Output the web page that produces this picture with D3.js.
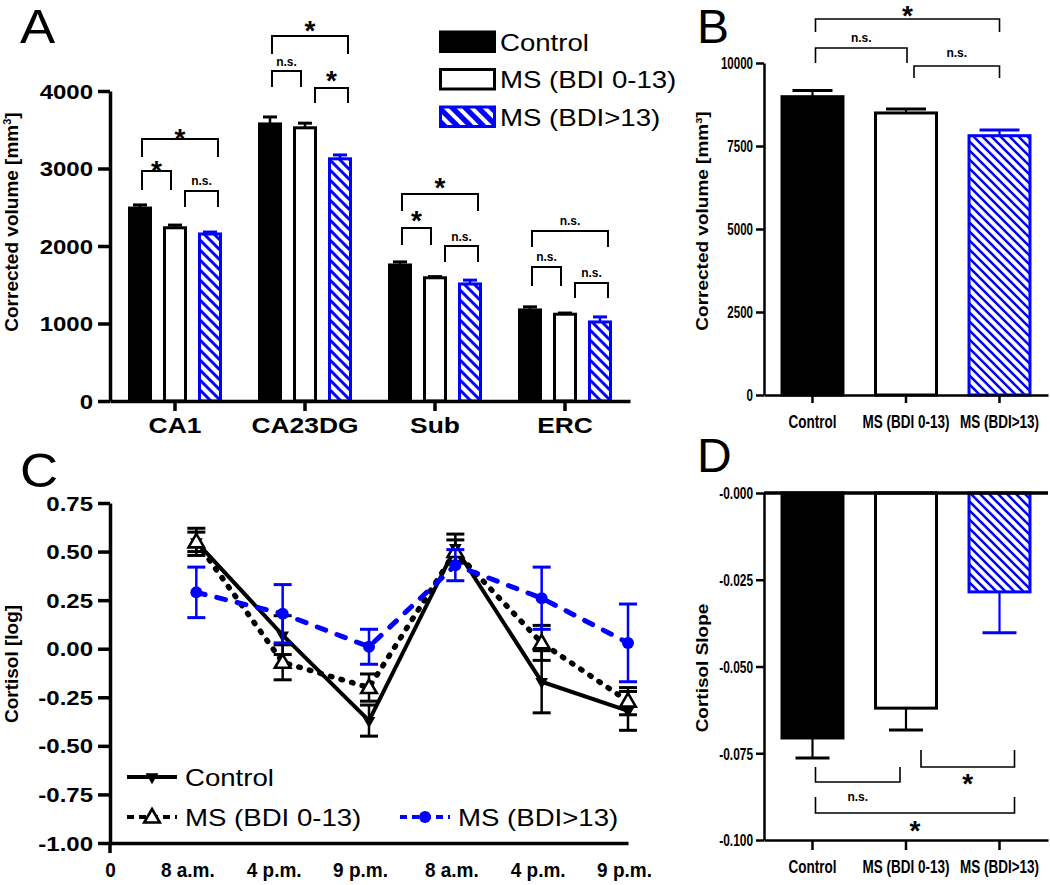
<!DOCTYPE html>
<html><head><meta charset="utf-8">
<script src="https://cdn.jsdelivr.net/npm/d3@7"></script>
<style>body{margin:0;background:#fff} svg{display:block} text{font-family:"Liberation Sans",Arial,sans-serif}</style>
</head><body><svg id="c" width="1050" height="885"></svg>
<script>
// ---------- DATA ----------
const regions = ["CA1", "CA23DG", "Sub", "ERC"];
const groups = ["Control", "MS (BDI 0-13)", "MS (BDI>13)"];
const volControl = [2490, 3575, 1755, 1175];
const volControlErr = [40, 90, 40, 40];
const volMSLow = [2235, 3525, 1590, 1120];
const volMSLowErr = [35, 60, 15, 15];
const volMSHigh = [2155, 3125, 1510, 1020];
const volMSHighErr = [25, 50, 50, 65];
const volTicks = [0, 1000, 2000, 3000, 4000];

const totalVol = [8985, 8495, 7810];
const totalVolErr = [190, 120, 170];
const totalTicks = [0, 2500, 5000, 7500, 10000];

const times = ["8 a.m.", "4 p.m.", "9 p.m.", "8 a.m.", "4 p.m.", "9 p.m."];
const cortControl = [0.55, 0.07, -0.37, 0.52, -0.17, -0.32];
const cortControlErr = [0.07, 0.10, 0.08, 0.07, 0.16, 0.10];
const cortMSLow = [0.55, -0.07, -0.20, 0.50, 0.03, -0.27];
const cortMSLowErr = [0.05, 0.09, 0.07, 0.06, 0.09, 0.07];
const cortMSHigh = [0.29, 0.18, 0.01, 0.43, 0.26, 0.03];
const cortMSHighErr = [0.13, 0.15, 0.09, 0.08, 0.16, 0.20];
const cortTicks = [0.75, 0.5, 0.25, 0, -0.25, -0.5, -0.75, -1];

const slope = [-0.0706, -0.0620, -0.0285];
const slopeErr = [0.0058, 0.0063, 0.0118];
const slopeTicks = [0, -0.025, -0.05, -0.075, -0.1];

// significance brackets (values in data units)
const sigA = [
  {region: 0, from: 0, to: 2, line: 3381, leg: 3148, at: 3458, label: "*"},
  {region: 0, from: 0, to: 1, line: 2968, leg: 2723, at: 3045, label: "*"},
  {region: 0, from: 1, to: 2, line: 2710, leg: 2503, at: 2826, label: "n.s."},
  {region: 1, from: 0, to: 2, line: 4710, leg: 4477, at: 4852, label: "*"},
  {region: 1, from: 0, to: 1, line: 4258, leg: 4052, at: 4374, label: "n.s."},
  {region: 1, from: 1, to: 2, line: 4039, leg: 3845, at: 4206, label: "*"},
  {region: 2, from: 0, to: 2, line: 2671, leg: 2452, at: 2826, label: "*"},
  {region: 2, from: 0, to: 1, line: 2232, leg: 2013, at: 2400, label: "*"},
  {region: 2, from: 1, to: 2, line: 2000, leg: 1794, at: 2116, label: "n.s."},
  {region: 3, from: 0, to: 2, line: 2194, leg: 1987, at: 2310, label: "n.s."},
  {region: 3, from: 0, to: 1, line: 1729, leg: 1484, at: 1858, label: "n.s."},
  {region: 3, from: 1, to: 2, line: 1523, leg: 1329, at: 1639, label: "n.s."}
];
const sigB = [
  {from: 0, to: 2, line: 11325, leg: 10934, at: 11596, label: "*"},
  {from: 0, to: 1, line: 10452, leg: 10000, at: 10753, label: "n.s."},
  {from: 1, to: 2, line: 9910, leg: 9548, at: 10301, label: "n.s."}
];
const sigD = [
  {from: 0, to: 1, line: -0.08329, leg: -0.07896, at: -0.08761, label: "n.s."},
  {from: 1, to: 2, line: -0.07896, leg: -0.07406, at: -0.08213, label: "*"},
  {from: 0, to: 2, line: -0.09222, leg: -0.08761, at: -0.09568, label: "*"}
];

// ---------- SETUP ----------
const BLUE = "#0000ff";
const svg = d3.select("#c");
const defs = svg.append("defs");
function hatch(id, size, sw, bg, fg) {
  const p = defs.append("pattern").attr("id", id).attr("patternUnits", "userSpaceOnUse")
    .attr("width", size).attr("height", size);
  p.append("rect").attr("width", size).attr("height", size).attr("fill", bg);
  p.append("path").attr("d", `M-2,-2 L${size+2},${size+2} M-2,${size-2} L2,${size+2} M${size-2},-2 L${size+2},2`)
    .attr("stroke", fg).attr("stroke-width", sw);
}
hatch("hA", 10, 3, "#fff", BLUE);
hatch("hB", 9, 2.6, "#fff", BLUE);
hatch("hL", 13, 4, BLUE, "#fff");

function txt(g, x, y, s, o = {}) {
  return g.append("text")
    .attr("transform", `translate(${x},${y}) scale(${o.sx || 1},1)${o.rot ? ` rotate(${o.rot})` : ""}`)
    .attr("font-size", o.size || 16).attr("font-weight", o.bold ? "bold" : "normal")
    .attr("text-anchor", o.anchor || "start").attr("fill", o.fill || "#000").text(s);
}
function styleAxis(g, w, size, sx, tx, ty, anchor) {
  g.attr("font-family", null).attr("font-size", size).attr("font-weight", "bold");
  g.select(".domain").attr("stroke-width", w).attr("stroke", "#000");
  g.selectAll(".tick line").attr("stroke-width", w).attr("stroke", "#000");
  g.selectAll(".tick text").attr("x", null).attr("y", null).attr("dy", ty === null ? "0.35em" : null)
    .attr("fill", "#000").attr("text-anchor", anchor)
    .attr("transform", `translate(${tx},${ty === null ? 0 : ty}) scale(${sx},1)`);
}
function fmt(d, n) { return (d < 0 ? "-" : "") + Math.abs(d).toFixed(n); }
function fillFor(i, pat) { return i === 0 ? "#000" : i === 1 ? "#fff" : `url(#${pat})`; }
function strokeFor(i) { return i === 2 ? BLUE : "#000"; }
function bracketLabel(g, x, y, label) {
  if (label === "*") txt(g, x, y + 15, "*", {size: 28, bold: true, anchor: "middle"});
  else txt(g, x, y + 3.5, "n.s.", {size: 12, bold: true, anchor: "middle"});
}

// ---------- PANEL A ----------
const gA = svg.append("g");
const xA = d3.scaleBand().domain(regions).range([110, 630]);
const xAin = d3.scaleBand().domain([0, 1, 2]).range([-52.5, 52.5]).paddingInner(0.314).paddingOuter(0.157);
const yA = d3.scaleLinear().domain([0, 4000]).range([401, 91]);
const volSeries = [volControl, volMSLow, volMSHigh];
const volErrSeries = [volControlErr, volMSLowErr, volMSHighErr];
volSeries.forEach((vals, si) => {
  regions.forEach((r, ri) => {
    const cx = xA(r) + xA.bandwidth() / 2 + xAin(si) + xAin.bandwidth() / 2;
    const top = yA(vals[ri] + volErrSeries[si][ri]);
    gA.append("line").attr("x1", cx).attr("x2", cx).attr("y1", yA(vals[ri])).attr("y2", top)
      .attr("stroke", strokeFor(si)).attr("stroke-width", 2.5);
    gA.append("line").attr("x1", cx - 7).attr("x2", cx + 7).attr("y1", top).attr("y2", top)
      .attr("stroke", strokeFor(si)).attr("stroke-width", 3);
    gA.append("rect").attr("x", cx - xAin.bandwidth() / 2 + 1.5).attr("width", xAin.bandwidth() - 3)
      .attr("y", yA(vals[ri])).attr("height", yA(0) - yA(vals[ri]))
      .attr("fill", fillFor(si, "hA")).attr("stroke", strokeFor(si)).attr("stroke-width", 3);
  });
});
const axAy = gA.append("g").attr("transform", "translate(110,0)")
  .call(d3.axisLeft(yA).tickValues(volTicks).tickSize(12).tickSizeOuter(0).tickFormat(d3.format("d")));
styleAxis(axAy, 3.5, 20, 1.2, -17, null, "end");
const axAx = gA.append("g").attr("transform", "translate(0,401)")
  .call(d3.axisBottom(xA).tickSize(10).tickSizeOuter(0));
styleAxis(axAx, 3.5, 22, 1.2, 0, 32, "middle");
const yLabA = txt(gA, 18, 222, "Corrected volume [mm", {size: 19, bold: true, anchor: "middle", rot: -90, sx: 1.0});
yLabA.append("tspan").attr("dy", -7).attr("font-size", 11).text("3");
yLabA.append("tspan").attr("dy", 7).text("]");
txt(gA, 20, 43, "A", {size: 48, sx: 1.1});
const offLA = [2, 10, 0], offRA = [0, -4, 8];
sigA.forEach(s => {
  const c = i => xA(regions[s.region]) + xA.bandwidth() / 2 + xAin(i) + xAin.bandwidth() / 2;
  const x1 = c(s.from) + offLA[s.from], x2 = c(s.to) + offRA[s.to];
  gA.append("path").attr("d", `M${x1},${yA(s.leg)} V${yA(s.line)} H${x2} V${yA(s.leg)}`)
    .attr("fill", "none").attr("stroke", "#000").attr("stroke-width", 2);
  bracketLabel(gA, (x1 + x2) / 2, yA(s.at), s.label);
});
// legend A
groups.forEach((gname, i) => {
  const y = 32 + i * 37.5;
  gA.append("rect").attr("x", 440.5).attr("y", y).attr("width", 54).attr("height", 19.5)
    .attr("fill", i === 2 ? "url(#hL)" : fillFor(i)).attr("stroke", strokeFor(i)).attr("stroke-width", 3);
  txt(gA, 500, y + 18.5, gname, {size: 23, sx: 1.2});
});

// ---------- PANEL B ----------
const gB = svg.append("g");
const xB = d3.scaleBand().domain(groups).range([764, 1048]).paddingInner(0.348).paddingOuter(0.1926);
const yB = d3.scaleLinear().domain([0, 10000]).range([395, 63]);
groups.forEach((gname, i) => {
  const cx = xB(gname) + xB.bandwidth() / 2;
  const top = yB(totalVol[i] + totalVolErr[i]);
  gB.append("line").attr("x1", cx).attr("x2", cx).attr("y1", yB(totalVol[i])).attr("y2", top)
    .attr("stroke", strokeFor(i)).attr("stroke-width", 2.2);
  gB.append("line").attr("x1", cx - 20).attr("x2", cx + 20).attr("y1", top).attr("y2", top)
    .attr("stroke", strokeFor(i)).attr("stroke-width", 3);
  gB.append("rect").attr("x", xB(gname)).attr("width", xB.bandwidth())
    .attr("y", yB(totalVol[i])).attr("height", yB(0) - yB(totalVol[i]))
    .attr("fill", fillFor(i, "hB")).attr("stroke", strokeFor(i)).attr("stroke-width", 3);
});
const axBy = gB.append("g").attr("transform", "translate(764,0)")
  .call(d3.axisLeft(yB).tickValues(totalTicks).tickSize(8).tickSizeOuter(0).tickFormat(d3.format("d")));
styleAxis(axBy, 2.5, 17, 0.68, -11, null, "end");
const axBx = gB.append("g").attr("transform", "translate(0,395)")
  .call(d3.axisBottom(xB).tickSize(8).tickSizeOuter(0));
styleAxis(axBx, 2.5, 18, 0.75, 0, 33, "middle");
const yLabB = txt(gB, 708, 221, "Corrected volume [mm", {size: 19, bold: true, anchor: "middle", rot: -90, sx: 0.85});
yLabB.append("tspan").attr("dy", -7).attr("font-size", 11).text("3");
yLabB.append("tspan").attr("dy", 7).text("]");
txt(gB, 697, 43, "B", {size: 48, sx: 1.0});
const offLB = [3, 8, 0], offRB = [0, 1, 0];
sigB.forEach(s => {
  const x1 = xB(groups[s.from]) + xB.bandwidth() / 2 + offLB[s.from];
  const x2 = xB(groups[s.to]) + xB.bandwidth() / 2 + offRB[s.to];
  gB.append("path").attr("d", `M${x1},${yB(s.leg)} V${yB(s.line)} H${x2} V${yB(s.leg)}`)
    .attr("fill", "none").attr("stroke", "#000").attr("stroke-width", 1.6);
  bracketLabel(gB, (x1 + x2) / 2, yB(s.at), s.label);
});

// ---------- PANEL C ----------
const gC = svg.append("g");
const xC = d3.scaleLinear().domain([0, 6]).range([110, 628]);
const yC = d3.scaleLinear().domain([-1, 0.75]).range([843, 503]);
const axCy = gC.append("g").attr("transform", "translate(110,0)")
  .call(d3.axisLeft(yC).tickValues(cortTicks).tickSize(12).tickSizeOuter(0).tickFormat(d => fmt(d, 2)));
styleAxis(axCy, 3.5, 20, 1.2, -17, null, "end");
const axCx = gC.append("g").attr("transform", "translate(0,843)")
  .call(d3.axisBottom(xC).tickValues(d3.range(0, 7)).tickSize(0).tickSizeOuter(0)
    .tickFormat(i => i === 0 ? "0" : times[i - 1]));
styleAxis(axCx, 3.5, 20, 0.95, 0, 34, "middle");
axCx.selectAll(".tick text").filter(d => d > 0 && d <= 3).attr("transform", "translate(-9,34) scale(0.95,1)");
axCx.selectAll(".tick text").filter(d => d > 3).attr("transform", "translate(-4,34) scale(0.95,1)");
gC.append("line").attr("x1", 110).attr("x2", 110).attr("y1", 843).attr("y2", 853).attr("stroke", "#000").attr("stroke-width", 3.5);
txt(gC, 18, 664, "Cortisol [log]", {size: 19, bold: true, anchor: "middle", rot: -90, sx: 1.0});
txt(gC, 20, 487, "C", {size: 48, sx: 1.1});

const cortSeries = [
  {vals: cortControl, err: cortControlErr, color: "#000", dash: null, width: 4, marker: "down"},
  {vals: cortMSLow, err: cortMSLowErr, color: "#000", dash: "1.5,9.5", width: 5.5, marker: "up"},
  {vals: cortMSHigh, err: cortMSHighErr, color: BLUE, dash: "9,12", width: 5, marker: "circle"}
];
function marker(g, kind, x, y, color) {
  if (kind === "circle") g.append("circle").attr("cx", x).attr("cy", y).attr("r", 6).attr("fill", color);
  else if (kind === "down") g.append("path").attr("d", d3.symbol(d3.symbolTriangle, 70)())
    .attr("transform", `translate(${x},${y}) rotate(180)`).attr("fill", color);
  else g.append("path").attr("d", d3.symbol(d3.symbolTriangle, 105)())
    .attr("transform", `translate(${x},${y + 1})`).attr("fill", "#fff").attr("stroke", color).attr("stroke-width", 2.6);
}
cortSeries.forEach(s => {
  const line = d3.line().x((d, i) => xC(i + 1)).y(d => yC(d));
  gC.append("path").datum(s.vals).attr("d", line).attr("fill", "none").attr("stroke", s.color)
    .attr("stroke-width", s.width).attr("stroke-dasharray", s.dash).attr("stroke-linecap", s.dash ? "round" : "butt")
    .attr("stroke-linejoin", "miter");
  s.vals.forEach((v, i) => {
    const x = xC(i + 1), lo = yC(v - s.err[i]), hi = yC(v + s.err[i]);
    gC.append("line").attr("x1", x).attr("x2", x).attr("y1", lo).attr("y2", hi).attr("stroke", s.color).attr("stroke-width", 2.5);
    [lo, hi].forEach(yy => gC.append("line").attr("x1", x - 9).attr("x2", x + 9).attr("y1", yy).attr("y2", yy)
      .attr("stroke", s.color).attr("stroke-width", 3));
    marker(gC, s.marker, x, yC(v), s.color);
  });
});
// legend C
const legC = [
  {x: 127, y: 777, s: cortSeries[0], name: groups[0], dash: null},
  {x: 127, y: 817, s: cortSeries[1], name: groups[1], dash: "7,5"},
  {x: 400, y: 817, s: cortSeries[2], name: groups[2], dash: "7,5"}
];
legC.forEach(l => {
  gC.append("line").attr("x1", l.x).attr("x2", l.x + 50).attr("y1", l.y).attr("y2", l.y)
    .attr("stroke", l.s.color).attr("stroke-width", 4).attr("stroke-dasharray", l.dash);
  marker(gC, l.s.marker, l.x + 25, l.y, l.s.color);
  txt(gC, l.x + 58, l.y + 9, l.name, {size: 23, sx: 1.2});
});

// ---------- PANEL D ----------
const gD = svg.append("g");
const xD = d3.scaleBand().domain(groups).range([764, 1048]).paddingInner(0.348).paddingOuter(0.1926);
const yD = d3.scaleLinear().domain([-0.1, 0]).range([840, 493]);
groups.forEach((gname, i) => {
  const cx = xD(gname) + xD.bandwidth() / 2;
  const bot = yD(slope[i] - slopeErr[i]);
  gD.append("line").attr("x1", cx).attr("x2", cx).attr("y1", yD(slope[i])).attr("y2", bot)
    .attr("stroke", strokeFor(i)).attr("stroke-width", 2.2);
  gD.append("line").attr("x1", cx - 17).attr("x2", cx + 17).attr("y1", bot).attr("y2", bot)
    .attr("stroke", strokeFor(i)).attr("stroke-width", 3);
  gD.append("rect").attr("x", xD(gname)).attr("width", xD.bandwidth())
    .attr("y", yD(0)).attr("height", yD(slope[i]) - yD(0))
    .attr("fill", fillFor(i, "hB")).attr("stroke", strokeFor(i)).attr("stroke-width", 3);
});
gD.append("line").attr("x1", 764).attr("x2", 1048).attr("y1", yD(0)).attr("y2", yD(0))
  .attr("stroke", "#000").attr("stroke-width", 3.5);
const axDy = gD.append("g").attr("transform", "translate(764,0)")
  .call(d3.axisLeft(yD).tickValues(slopeTicks).tickSize(8).tickSizeOuter(0).tickFormat(d => d === 0 ? "-0.000" : fmt(d, 3)));
styleAxis(axDy, 2.5, 17, 0.7, -11, null, "end");
const axDx = gD.append("g").attr("transform", "translate(0,840)")
  .call(d3.axisBottom(xD).tickSize(10).tickSizeOuter(0));
styleAxis(axDx, 2.5, 18, 0.75, 0, 33, "middle");
txt(gD, 708, 668, "Cortisol Slope", {size: 19, bold: true, anchor: "middle", rot: -90, sx: 0.85});
txt(gD, 697, 472, "D", {size: 48, sx: 1.0});
const offLD = [3, 15, 0], offRD = [0, -6, 15];
sigD.forEach(s => {
  const x1 = xD(groups[s.from]) + xD.bandwidth() / 2 + offLD[s.from];
  const x2 = xD(groups[s.to]) + xD.bandwidth() / 2 + offRD[s.to];
  gD.append("path").attr("d", `M${x1},${yD(s.leg)} V${yD(s.line)} H${x2} V${yD(s.leg)}`)
    .attr("fill", "none").attr("stroke", "#000").attr("stroke-width", 1.6);
  bracketLabel(gD, (x1 + x2) / 2, yD(s.at), s.label);
});
</script></body></html>
